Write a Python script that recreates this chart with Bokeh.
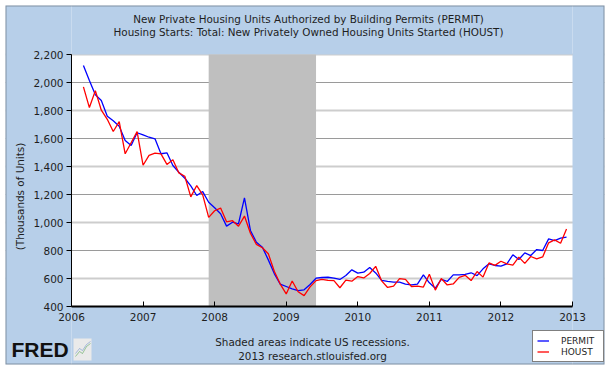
import math
import pandas as pd
from bokeh.plotting import figure
from bokeh.models import (Range1d, FixedTicker, Grid, Label, Legend, LegendItem, LinearAxis,
                          BoxAnnotation, PolyAnnotation, NumeralTickFormatter)
from bokeh.embed import file_html
from bokeh.resources import INLINE

# ---------------- data ----------------
first_month = "2006-03-01"
permit = [2121, 2014, 1912, 1871, 1759, 1726, 1688, 1586, 1550, 1641,
          1626, 1609, 1598, 1491, 1498, 1407, 1359, 1316, 1262, 1193, 1221, 1145,
          1105, 1062, 974, 1002, 991, 1176, 943, 859, 824, 733, 635, 560,
          543, 526, 514, 519, 557, 602, 607, 609, 602, 593, 621, 662,
          638, 645, 679, 640, 586, 579, 574, 574, 560, 555, 560, 626,
          569, 531, 593, 579, 626, 626, 629, 641, 621, 669, 705, 693,
          688, 705, 769, 736, 783, 764, 807, 800, 883, 871, 888, 895]
houst = [1969, 1821, 1942, 1802, 1737, 1650, 1720, 1491, 1570, 1649,
         1409, 1480, 1495, 1490, 1415, 1448, 1354, 1330, 1183, 1264, 1197, 1037,
         1084, 1103, 1005, 1013, 973, 1046, 923, 844, 820, 777, 652, 560,
         490, 582, 505, 478, 540, 585, 594, 586, 585, 534, 588, 581,
         614, 604, 636, 687, 583, 536, 546, 599, 594, 543, 545, 539,
         630, 517, 600, 554, 561, 608, 623, 585, 650, 610, 711, 694,
         723, 704, 695, 753, 708, 757, 740, 754, 855, 876, 852, 954]
recession_start = ["2007-12-01"]
recession_end = ["2009-06-01"]
x_ticks = [2006, 2007, 2008, 2009, 2010, 2011, 2012, 2013]
x_tick_labels = ["2006", "2007", "2008", "2009", "2010", "2011", "2012", "2013"]
y_ticks = [400, 600, 800, 1000, 1200, 1400, 1600, 1800, 2000, 2200]
y_grid_dark = [800, 1200, 1600, 2000]
y_grid_light = [600, 1000, 1400, 1800, 2200]
title_lines = ["New Private Housing Units Authorized by Building Permits (PERMIT)",
               "Housing Starts: Total: New Privately Owned Housing Units Started (HOUST)"]
note_lines = ["Shaded areas indicate US recessions.", "2013 research.stlouisfed.org"]
y_label = "(Thousands of Units)"
series_names = ["PERMIT", "HOUST"]


def dec_year(d):
    d = pd.Timestamp(d)
    return d.year + (d.month - 1) / 12.0


dates = pd.date_range(first_month, periods=len(permit), freq="MS")
xs = [dec_year(d) for d in dates]
rs = [dec_year(d) for d in recession_start]
re_ = [dec_year(d) for d in recession_end]

# ---------------- layout (pixels) ----------------
CW, CH = 605, 365                 # canvas
FL, FT, FR, FB = 5, 5, 604, 364   # outer panel (frame) edges
PL, PT, PR, PB = 71, 54, 572, 306 # plot area edges
X0, X1 = x_ticks[0], x_ticks[-1]
Y0, Y1 = y_ticks[0], y_ticks[-1]
KX = (PR - PL) / (X1 - X0)
KY = (PB - PT) / (Y1 - Y0)


def px2x(px):
    return X0 + (px - PL) / KX


def px2y(py):
    return Y0 + (PB - py) / KY


xs0, xs1 = px2x(FL), px2x(FR)
ys0, ys1 = px2y(FB), px2y(FT)

BG = "#B7CFE9"
FONT = "DejaVu Sans"
TXT = "#1e1e1e"

p = figure(width=CW, height=CH, output_backend="svg", toolbar_location=None,
           x_axis_type=None, y_axis_type=None,
           x_range=Range1d(xs0, xs1), y_range=Range1d(ys0, ys1),
           min_border_left=FL, min_border_top=FT, min_border_right=CW - FR, min_border_bottom=CH - FB,
           background_fill_color="white", border_fill_color="white", outline_line_color=None)

# horizontal grid lines (alternating shades)
for ticks, col, w in ((y_grid_light, "#CDCDCD", 2), (y_grid_dark, "#9A9A9A", 1)):
    p.renderers.append(Grid(dimension=1, ticker=FixedTicker(ticks=ticks),
                            grid_line_color=col, grid_line_width=w))

# blue surround outside the plot area
p.quad(left=[xs0 - 1, X1, X0, X0], right=[X0, xs1 + 1, X1, X1],
       bottom=[ys0 - 100, ys0 - 100, Y1, ys0 - 100], top=[ys1 + 100, ys1 + 100, ys1 + 100, Y0],
       fill_color=BG, line_color=None)

# recession shading
p.quad(left=rs, right=re_, bottom=[Y0] * len(rs), top=[Y1] * len(rs),
       fill_color="#BFBFBF", line_color=None)

r1 = p.line(xs, permit, line_color="#0000FF", line_width=1.3)
r2 = p.line(xs, houst, line_color="#FF0000", line_width=1.3)

# axes fixed on the plot-area edges
xaxis = LinearAxis(fixed_location=Y0, bounds=(X0, X1), ticker=FixedTicker(ticks=x_ticks),
                   major_label_overrides={t: l for t, l in zip(x_ticks, x_tick_labels)},
                   major_tick_in=5, major_tick_out=0, minor_tick_line_color=None,
                   axis_line_width=2, major_label_standoff=6)
yaxis = LinearAxis(fixed_location=X0, bounds=(Y0, Y1), ticker=FixedTicker(ticks=y_ticks),
                   formatter=NumeralTickFormatter(format="0,0"),
                   major_tick_in=0, major_tick_out=5, minor_tick_line_color=None,
                   axis_line_width=1, major_label_standoff=3)
for ax in (xaxis, yaxis):
    ax.axis_line_color = "black"
    ax.major_tick_line_color = "black"
    ax.major_label_text_font = "DejaVu Sans"
    ax.major_label_text_font_size = "10.5px"
    ax.major_label_text_color = TXT
p.add_layout(xaxis, "below")
p.add_layout(yaxis, "left")


def lab(px, py, text, size="10.4px", **kw):
    p.add_layout(Label(x=px2x(px), y=px2y(py), text=text,
                       text_font=kw.pop("font", FONT), text_font_size=size,
                       text_color=kw.pop("color", TXT), text_align=kw.pop("align", "center"),
                       text_baseline="middle", **kw))


lab(308, 18, title_lines[0])
lab(308, 31, title_lines[1])
lab(312, 341, note_lines[0])
lab(312, 355, note_lines[1])
lab(19, 196, y_label, angle=math.pi / 2)
lab(11, 349, "FRED", size="21px", align="left", text_font_style="bold", color="#111111",
    font="Liberation Sans")

# small FRED chart icon
p.add_layout(BoxAnnotation(left=px2x(73), right=px2x(91), bottom=px2y(360), top=px2y(338),
                           fill_color="#EAEAEA", fill_alpha=1, line_color=None))
for pts, col in (([(75, 356), (79, 351), (82, 353), (86, 346), (90, 343)], "#4FA24F"),
                 ([(75, 353), (79, 348), (82, 350), (86, 344), (90, 341)], "#6A8FCB")):
    seq = pts + pts[::-1]
    p.add_layout(PolyAnnotation(xs=[px2x(a) for a, _ in seq], ys=[px2y(b) for _, b in seq],
                                fill_alpha=0, line_color=col, line_width=1))

# outer black border
p.add_layout(BoxAnnotation(left=xs0, right=xs1, bottom=ys0, top=ys1,
                           fill_color=None, line_color="black", line_width=2))

legend = Legend(items=[LegendItem(label=series_names[0], renderers=[r1]),
                       LegendItem(label=series_names[1], renderers=[r2])],
                location=(532 - FL, FB - 362), orientation="vertical",
                border_line_color="black", border_line_width=1,
                background_fill_color="white", background_fill_alpha=1,
                label_text_font=FONT, label_text_font_size="9px", label_text_color=TXT,
                glyph_width=12, glyph_height=11, label_height=11, label_width=38,
                label_standoff=12, padding=4, spacing=0, margin=0)
p.add_layout(legend, "center")

open("out.html", "w").write(file_html(p, INLINE))
